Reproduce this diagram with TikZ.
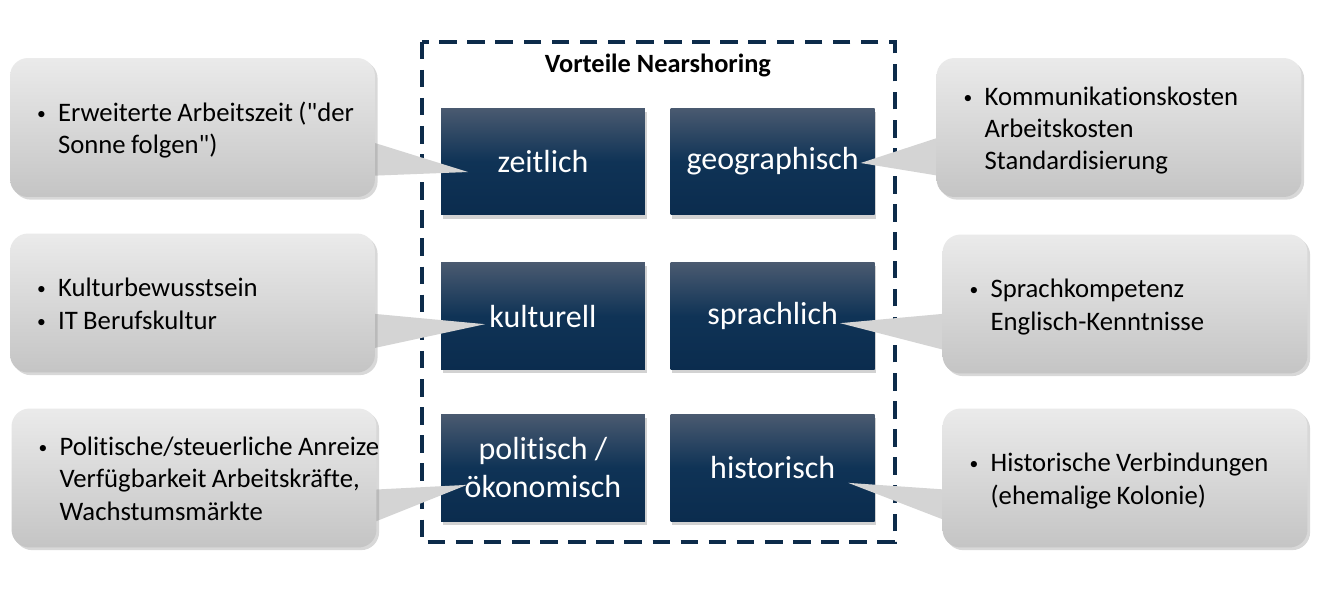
\documentclass[tikz,border=0pt]{standalone}
\usepackage{fontspec}
\setmainfont{Carlito}[Ligatures={TeXOff,NoCommon}]
\usetikzlibrary{positioning, calc, shadows}
\definecolor{navy}{HTML}{0D2B4A}
\definecolor{boxtop}{HTML}{4A5A70}
\definecolor{boxmid}{HTML}{0F3356}
\definecolor{boxbot}{HTML}{0B2C4E}
\pgfdeclarelayer{front}
\pgfsetlayers{main,front}
\newcommand{\blt}{\raisebox{0.15ex}{\fontsize{10}{10}\selectfont\textbullet}}

\begin{document}
\begin{tikzpicture}[x=0.02cm, y=-0.02cm,
    box/.style={rectangle, top color=boxtop, bottom color=boxbot, middle color=boxmid, text=white, minimum width=4.08cm, minimum height=2.14cm, align=center, font=\fontsize{18.2}{21.5}\selectfont, drop shadow={shadow xshift=1pt, shadow yshift=-2pt, opacity=0.35}},
    callout/.style={rectangle, rounded corners=0.36cm, top color=black!8, bottom color=black!23, minimum height=2.78cm, inner xsep=0.54cm, text width=6.22cm, align=left, font=\fontsize{15.2}{18.4}\selectfont, execute at begin node={\spaceskip=0.2em\relax}, drop shadow={shadow xshift=1.5pt, shadow yshift=-1.5pt, opacity=0.3}},
    frame/.style={draw=navy, line width=2.3pt, dash pattern=on 10pt off 6pt},
    title/.style={font=\bfseries\fontsize{15}{17}\selectfont},
    ptr/.style={fill=black!17}
]
    \path[use as bounding box, fill=white] (0,0) rectangle (1334,589);

    % Central grid of advantages
    \node[box] (zeit) at (543,161.5) {zeitlich};
    \node[box, right=0.5cm of zeit] (geo) {geographisch};
    \node[box, below=0.94cm of zeit] (kult) {kulturell};
    \node[box, right=0.5cm of kult] (sprach) {sprachlich};
    \node[box, below=0.88cm of kult] (polit) {politisch /\\ökonomisch};
    \node[box, right=0.5cm of polit] (hist) {historisch};

    % Dashed frame with heading
    \draw[frame] ($(zeit.north west)+(-19,-66)$) rectangle ($(hist.south east)+(20,20)$);
    \node[title] (head) at ($(zeit.north)!0.5!(geo.north)+(0,-42)$) {Vorteile Nearshoring};

    % Pointer tips inside the boxes
    \coordinate (zeit-tip) at ($(zeit.center)+(-75,10.5)$);
    \coordinate (kult-tip) at ($(kult.center)+(-58,8)$);
    \coordinate (polit-tip) at ($(polit.center)+(-76,17)$);
    \coordinate (geo-tip) at ($(geo.center)+(88,1.5)$);
    \coordinate (sprach-tip) at ($(sprach.center)+(67.5,7)$);
    \coordinate (hist-tip) at ($(hist.center)+(75.5,15)$);

    % Callouts (left and right)
    \begin{pgfonlayer}{front}
    \node[callout] (c-zeit) at (192.5,127.5) {\begin{tabular}{@{}p{12pt}@{}l@{}}
        \noalign{\vskip 4pt}
        \blt & Erweiterte Arbeitszeit ("der\\
             & Sonne folgen")
    \end{tabular}};
    \node[callout] (c-kult) at (192.5,303) {\begin{tabular}{@{}p{12pt}@{}l@{}}
        \noalign{\vskip 4pt}
        \blt & Kulturbewusstsein\\
        \blt & IT Berufskultur
    \end{tabular}};
    \node[callout] (c-polit) at (194,478) {\begin{tabular}{@{}p{12pt}@{}l@{}}
        \noalign{\vskip 4pt}
        \blt & Politische/steuerliche Anreize\\
             & Verfügbarkeit Arbeitskräfte,\\
             & Wachstumsmärkte
    \end{tabular}};
    \node[callout] (c-geo) at (1119,127.5) {\begin{tabular}{@{}p{12pt}@{}l@{}}
        \noalign{\vskip 4pt}
        \blt & Kommunikationskosten\\
             & Arbeitskosten\\
             & Standardisierung
    \end{tabular}};
    \node[callout] (c-sprach) at (1125,304) {\begin{tabular}{@{}p{12pt}@{}l@{}}
        \noalign{\vskip 4pt}
        \blt & Sprachkompetenz\\
             & Englisch-Kenntnisse
    \end{tabular}};
    \node[callout] (c-hist) at (1125,478) {\begin{tabular}{@{}p{12pt}@{}l@{}}
        \noalign{\vskip 4pt}
        \blt & Historische Verbindungen\\
             & (ehemalige Kolonie)
    \end{tabular}};
    \end{pgfonlayer}

    % Pointers from callouts to boxes
    \fill[ptr] ($(c-zeit.east)+(-10,12.5)$) -- (zeit-tip) -- ($(c-zeit.east)+(-10,48.5)$) -- cycle;
    \fill[ptr] ($(c-kult.east)+(-10,10)$) -- (kult-tip) -- ($(c-kult.east)+(-10,47)$) -- cycle;
    \fill[ptr] ($(c-polit.east)+(-10,12)$) -- (polit-tip) -- ($(c-polit.east)+(-10,47)$) -- cycle;
    \fill[ptr] ($(c-geo.west)+(10,7.5)$) -- (geo-tip) -- ($(c-geo.west)+(10,49.5)$) -- cycle;
    \fill[ptr] ($(c-sprach.west)+(10,9)$) -- (sprach-tip) -- ($(c-sprach.west)+(10,48)$) -- cycle;
    \fill[ptr] ($(c-hist.west)+(10,12)$) -- (hist-tip) -- ($(c-hist.west)+(10,45)$) -- cycle;
\end{tikzpicture}
\end{document}
